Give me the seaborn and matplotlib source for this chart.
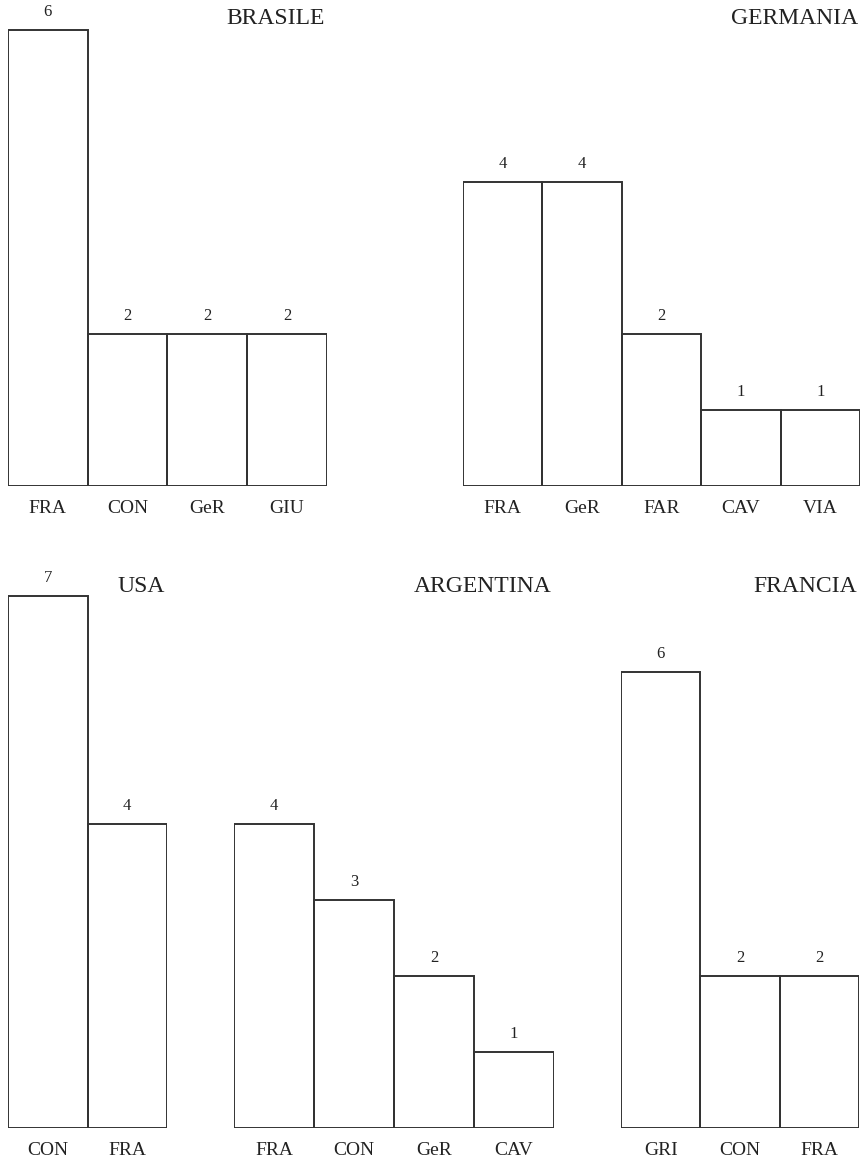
import matplotlib
matplotlib.use("Agg")
import matplotlib.pyplot as plt
import seaborn as sns

# ---- data ----
brasile_cats = ["FRA", "CON", "GeR", "GIU"]
brasile_vals = [6, 2, 2, 2]
germania_cats = ["FRA", "GeR", "FAR", "CAV", "VIA"]
germania_vals = [4, 4, 2, 1, 1]
usa_cats = ["CON", "FRA"]
usa_vals = [7, 4]
argentina_cats = ["FRA", "CON", "GeR", "CAV"]
argentina_vals = [4, 3, 2, 1]
francia_cats = ["GRI", "CON", "FRA"]
francia_vals = [6, 2, 2]
titles = ["BRASILE", "GERMANIA", "USA", "ARGENTINA", "FRANCIA"]

sns.set_style("white")
plt.rcParams["font.family"] = ["Liberation Serif", "DejaVu Serif"]

W, H = 862, 1163
fig = plt.figure(figsize=(W / 100, H / 100), dpi=100)

PX_PER_UNIT = 76.0
EDGE = "#333333"

# (title, cats, vals, left px, right px, baseline px from top, ymax, title y px)
panels = [
    (titles[0], brasile_cats, brasile_vals, 8, 327, 486, 6.3, 18),
    (titles[1], germania_cats, germania_vals, 463, 860, 486, 6.3, 19),
    (titles[2], usa_cats, usa_vals, 8, 167, 1128, 7.3, 586),
    (titles[3], argentina_cats, argentina_vals, 234, 554, 1128, 7.3, 586),
    (titles[4], francia_cats, francia_vals, 621, 859, 1128, 7.3, 586),
]

for title, cats, vals, L, R, base, ymax, ty in panels:
    ax = fig.add_axes([L / W, (H - base) / H, (R - L) / W, ymax * PX_PER_UNIT / H])
    sns.barplot(x=cats, y=vals, ax=ax, color=EDGE, fill=False, width=1.0,
                linewidth=1.4, edgecolor=EDGE)
    ax.set_xlim(-0.5, len(cats) - 0.5)
    ax.set_ylim(0, ymax)
    for c in ax.containers:
        ax.bar_label(c, fmt="%d", padding=7, fontsize=12, color="#222222")
    for s in ax.spines.values():
        s.set_visible(False)
    ax.set_yticks([])
    ax.tick_params(axis="x", length=0, pad=10, labelsize=14, colors="#222222")
    ax.set_xlabel("")
    ax.set_ylabel("")
    ax.patch.set_alpha(0)
    fig.text((R - 2) / W, 1 - ty / H, title, ha="right", va="center",
             fontsize=17, color="#222222")

fig.savefig("out.png", dpi=100, facecolor="white")
